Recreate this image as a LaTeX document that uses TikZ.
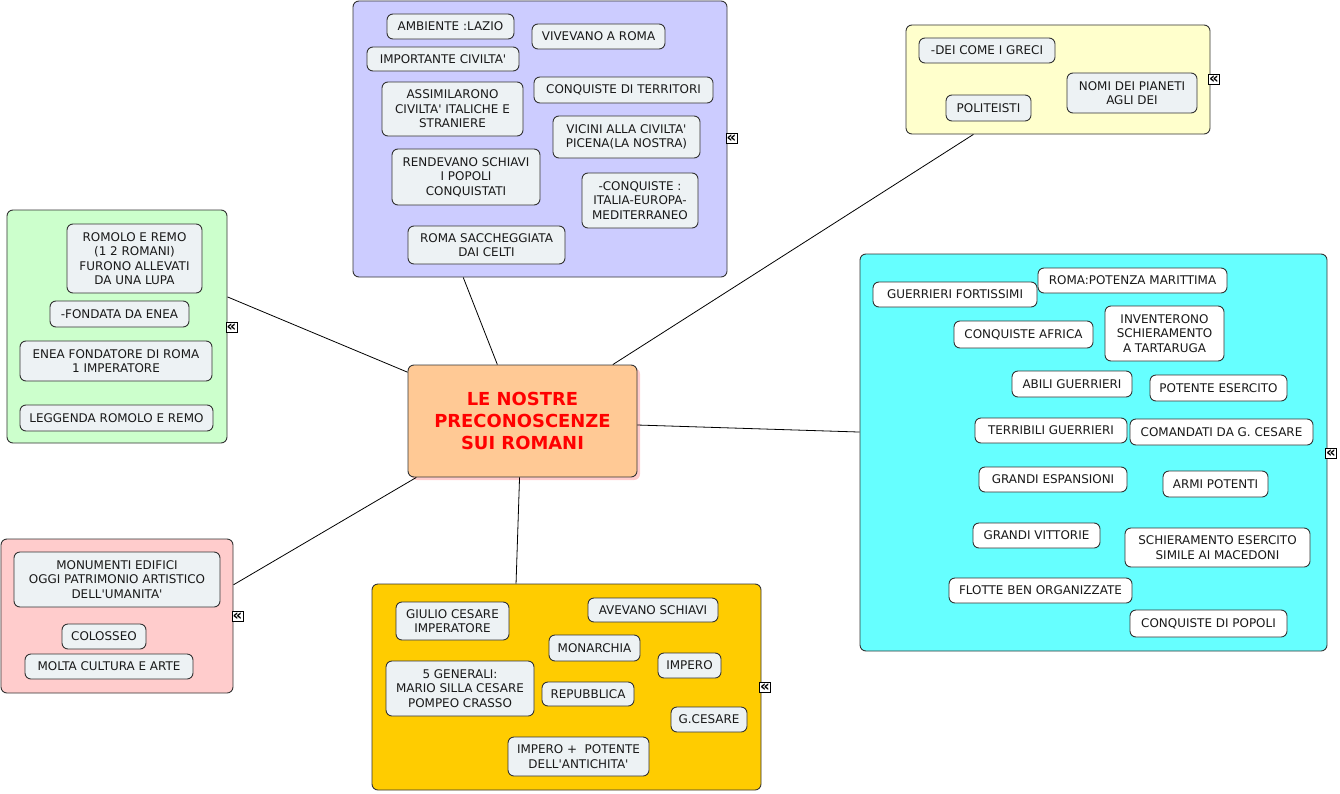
\documentclass[tikz,border=0pt]{standalone}
\usepackage{fontspec}
\setmainfont{DejaVu Sans}[Ligatures=TeXOff]
\usepackage{tikz}
\usetikzlibrary{shadows}
\definecolor{leafgray}{HTML}{EDF2F4}
\definecolor{rootfill}{HTML}{FFC995}
\definecolor{rootshade}{HTML}{FFCCCC}
\definecolor{rootred}{HTML}{FF0000}
\definecolor{lilac}{HTML}{CCCCFF}
\definecolor{cream}{HTML}{FFFFCC}
\definecolor{mint}{HTML}{CCFFCC}
\definecolor{aqua}{HTML}{66FFFF}
\definecolor{blush}{HTML}{FFCCCC}
\definecolor{amber}{HTML}{FFCC00}
\definecolor{edge}{HTML}{333333}
\tikzstyle{panel}+=[draw=edge,line width=0.9bp,rounded corners=6bp,inner sep=0pt]
\tikzstyle{idea}+=[draw=edge,line width=0.9bp,fill=leafgray,rounded corners=6bp,inner sep=0pt,align=center,text=black!90,font=\fontsize{12}{14.5}\selectfont]
\tikzstyle{whiteidea}+=[idea,fill=white]
\tikzstyle{root}+=[draw=edge,line width=0.9bp,fill=rootfill,rounded corners=6bp,inner sep=0pt,align=center,text=rootred,font=\fontsize{18}{22}\selectfont\bfseries,drop shadow={shadow xshift=3bp,shadow yshift=-3bp,fill=rootshade,opacity=1}]
\tikzstyle{fold}+=[draw=black,fill=white,line width=0.8bp,inner sep=0pt,text width=11bp,text height=9bp,text depth=1bp,align=center,font=\fontsize{15}{15}\selectfont\bfseries]
\tikzstyle{link}+=[draw=black,line width=0.8bp]
\tikzset{wh/.style 2 args={minimum width=#1bp,minimum height=#2bp}}

\begin{document}
\begin{tikzpicture}[x=1bp,y=-1bp]
  \useasboundingbox (0,0) rectangle (1340,793);
  % groups
  \node[panel,fill=lilac,wh={374}{276}] (history) at (540,139) {};
  \node[panel,fill=cream,wh={304}{109}] (religion) at (1058,79.5) {};
  \node[panel,fill=mint,wh={220}{233}] (origins) at (117,326.5) {};
  \node[panel,fill=aqua,wh={467}{397}] (army) at (1093.5,452.5) {};
  \node[panel,fill=blush,wh={232}{154}] (art) at (117,616) {};
  \node[panel,fill=amber,wh={389}{206}] (politics) at (566.5,687) {};
  % history
  \node[idea,wh={127}{25}] (lazio) at (450.5,26.5) {AMBIENTE :LAZIO};
  \node[idea,wh={133}{25}] (vivevano) at (598.5,36.5) {VIVEVANO A ROMA};
  \node[idea,wh={152}{24}] (civilta) at (443,59) {IMPORTANTE CIVILTA'};
  \node[idea,wh={179}{26}] (territori) at (623.5,90) {CONQUISTE DI TERRITORI};
  \node[idea,wh={141}{54}] (assimilarono) at (452.5,109) {ASSIMILARONO\\CIVILTA' ITALICHE E\\STRANIERE};
  \node[idea,wh={147}{42}] (picena) at (626.5,137) {VICINI ALLA CIVILTA'\\PICENA(LA NOSTRA)};
  \node[idea,wh={148}{56}] (schiavi) at (466,177) {RENDEVANO SCHIAVI\\I POPOLI\\CONQUISTATI};
  \node[idea,wh={116}{55}] (mediterraneo) at (640,200.5) {-CONQUISTE :\\ITALIA-EUROPA-\\MEDITERRANEO};
  \node[idea,wh={157}{38}] (celti) at (486.5,245) {ROMA SACCHEGGIATA\\DAI CELTI};
  % religion
  \node[idea,wh={136}{25}] (greci) at (987,50.5) {-DEI COME I GRECI};
  \node[idea,wh={130}{40}] (pianeti) at (1132,93) {NOMI DEI PIANETI\\AGLI DEI};
  \node[idea,wh={85}{26}] (politeisti) at (988.5,108) {POLITEISTI};
  % origins
  \node[idea,wh={135}{69}] (lupa) at (134.5,258.5) {ROMOLO E REMO\\(1 2 ROMANI)\\FURONO ALLEVATI\\DA UNA LUPA};
  \node[idea,wh={139}{26}] (enea) at (119.5,314) {-FONDATA DA ENEA};
  \node[idea,wh={192}{40}] (fondatore) at (116,361) {ENEA FONDATORE DI ROMA\\1 IMPERATORE};
  \node[idea,wh={193}{26}] (leggenda) at (116.5,418) {LEGGENDA ROMOLO E REMO};
  % army
  \node[whiteidea,wh={164}{25}] (fortissimi) at (955,294.5) {GUERRIERI FORTISSIMI};
  \node[whiteidea,wh={189}{25}] (marittima) at (1132.5,280.5) {ROMA:POTENZA MARITTIMA};
  \node[whiteidea,wh={139}{27}] (africa) at (1023.5,334.5) {CONQUISTE AFRICA};
  \node[whiteidea,wh={119}{55}] (tartaruga) at (1164.5,333.5) {INVENTERONO\\SCHIERAMENTO\\A TARTARUGA};
  \node[whiteidea,wh={120}{26}] (abili) at (1072,384) {ABILI GUERRIERI};
  \node[whiteidea,wh={137}{26}] (esercito) at (1218.5,388) {POTENTE ESERCITO};
  \node[whiteidea,wh={152}{25}] (terribili) at (1051,430.5) {TERRIBILI GUERRIERI};
  \node[whiteidea,wh={183}{26}] (comandati) at (1221.5,432) {COMANDATI DA G. CESARE};
  \node[whiteidea,wh={148}{25}] (espansioni) at (1053,479.5) {GRANDI ESPANSIONI};
  \node[whiteidea,wh={105}{26}] (armi) at (1215.5,484) {ARMI POTENTI};
  \node[whiteidea,wh={127}{25}] (vittorie) at (1036.5,535.5) {GRANDI VITTORIE};
  \node[whiteidea,wh={185}{39}] (macedoni) at (1217.5,547.5) {SCHIERAMENTO ESERCITO\\SIMILE AI MACEDONI};
  \node[whiteidea,wh={183}{25}] (flotte) at (1040.5,590.5) {FLOTTE BEN ORGANIZZATE};
  \node[whiteidea,wh={157}{27}] (popoli) at (1208.5,623.5) {CONQUISTE DI POPOLI};
  % art
  \node[idea,wh={206}{55}] (monumenti) at (117,579.5) {MONUMENTI EDIFICI\\OGGI PATRIMONIO ARTISTICO\\DELL'UMANITA'};
  \node[idea,wh={84}{25}] (colosseo) at (104,636.5) {COLOSSEO};
  \node[idea,wh={168}{25}] (cultura) at (109,666.5) {MOLTA CULTURA E ARTE};
  % politics
  \node[idea,wh={113}{38}] (cesare) at (452.5,621) {GIULIO CESARE\\IMPERATORE};
  \node[idea,wh={130}{24}] (avevano) at (653,610) {AVEVANO SCHIAVI};
  \node[idea,wh={91}{26}] (monarchia) at (594.5,648) {MONARCHIA};
  \node[idea,wh={63}{25}] (impero) at (689.5,665.5) {IMPERO};
  \node[idea,wh={148}{55}] (generali) at (460,688.5) {5 GENERALI:\\MARIO SILLA CESARE\\POMPEO CRASSO};
  \node[idea,wh={92}{24}] (repubblica) at (588,694) {REPUBBLICA};
  \node[idea,wh={76}{25}] (gcesare) at (709,719.5) {G.CESARE};
  \node[idea,wh={141}{39}] (antichita) at (578.5,756.5) {IMPERO + \ POTENTE\\DELL'ANTICHITA'};
  % centre
  \node[root,wh={229}{112}] (romans) at (522.5,421) {LE NOSTRE\\PRECONOSCENZE\\SUI ROMANI};
  \foreach \a/\n/\b in {114/history/241,32/religion/213,157/origins/15,358/army/175,208/art/15,267/politics/116}
    \draw[link] (romans.\a) -- (\n.\b);
  \foreach \x/\y/\n in {731.5/138.5/history,1214/79.5/religion,231.5/327.5/origins,1331/453/army,237.5/616/art,765/687.5/politics}
    \node[fold] (\n fold) at (\x,\y) {«};
\end{tikzpicture}
\end{document}
